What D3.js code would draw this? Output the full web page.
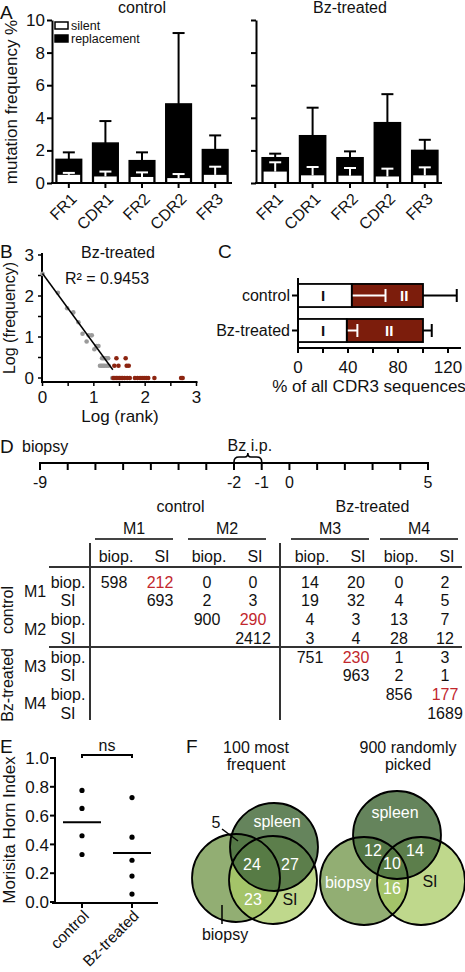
<!DOCTYPE html>
<html><head><meta charset="utf-8">
<script src="https://cdn.jsdelivr.net/npm/d3@7"></script>
<style>
body{margin:0;background:#fff}
svg{display:block}
text{font-family:"Liberation Sans",Arial,Helvetica,sans-serif;fill:#111}
</style>
</head><body>
<svg id="c" width="465" height="972"></svg>
<script>
// ---------- DATA ----------
// Panel A
const regions = ["FR1","CDR1","FR2","CDR2","FR3"];
const ctrlReplacement    = [1.45, 2.45, 1.37, 4.85, 2.05];
const ctrlReplacementErr = [1.88, 3.80, 1.88, 9.20, 2.92];
const ctrlSilent         = [0.50, 0.40, 0.37, 0.30, 0.50];
const ctrlSilentErr      = [0.62, 0.70, 0.65, 0.55, 1.00];
const bzReplacement      = [1.55, 2.90, 1.55, 3.70, 2.00];
const bzReplacementErr   = [1.80, 4.62, 1.94, 5.45, 2.65];
const bzSilent           = [0.70, 0.47, 0.45, 0.40, 0.47];
const bzSilentErr        = [1.27, 0.98, 0.92, 0.88, 0.96];
const aTicks = [0, 2, 4, 6, 8, 10];
const aLegend = ["silent", "replacement"];

// Panel B
const bGrayX = [0, 0.30, 0.48, 0.60, 0.70, 0.78, 0.86, 0.90, 0.96, 1.01, 1.05, 1.09,
                1.16, 1.19, 1.22, 1.25, 1.28, 1.12, 1.15, 1.18, 1.21, 1.25, 1.29, 1.36];
const bGrayY = [2.54, 2.08, 1.70, 1.60, 1.36, 1.08, 0.89, 1.04, 1.04, 0.70, 0.78, 0.78,
                0.48, 0.48, 0.48, 0.48, 0.48, 0.30, 0.30, 0.30, 0.30, 0.30, 0.30, 0];
const bRedX = [1.44, 1.62, 1.40, 1.48, 1.64, 1.68,
               1.38, 1.41, 1.44, 1.47, 1.50, 1.53, 1.56, 1.60, 1.65, 1.70,
               1.80, 1.85, 1.90, 1.94, 1.98, 2.02, 2.06, 2.18, 2.70, 2.73];
const bRedY = [0.48, 0.48, 0.30, 0.30, 0.30, 0.30,
               0, 0, 0, 0, 0, 0, 0, 0, 0, 0,
               0, 0, 0, 0, 0, 0, 0, 0, 0, 0];
const bFitX = [0, 1.37];
const bFitY = [2.55, 0.20];
const bTicks = [0, 1, 2, 3];
const bR2 = "R\u00B2 = 0.9453";

// Panel C
const cCategories = ["control", "Bz-treated"];
const cTypeI      = [43, 39];
const cTypeIErr   = [70, 47.5];
const cTotal      = [100, 100];
const cTotalErr   = [127, 107];
const cLabelII    = [85, 73];
const cTicks = [0, 40, 80, 120];

// Panel D timeline
const tlDays = d3.range(-9, 6);
const tlLabeled = [-9, -2, -1, 0, 5];
const tlBrace = [-2, -1];

// Panel D table
const mice = ["M1", "M2", "M3", "M4"];
const samples = ["biop.", "SI"];
const groups = ["control", "Bz-treated"];
const overlap = [
  [598, 212, 0, 0, 14, 20, 0, 2],
  [null, 693, 2, 3, 19, 32, 4, 5],
  [null, null, 900, 290, 4, 3, 13, 7],
  [null, null, null, 2412, 3, 4, 28, 12],
  [null, null, null, null, 751, 230, 1, 3],
  [null, null, null, null, null, 963, 2, 1],
  [null, null, null, null, null, null, 856, 177],
  [null, null, null, null, null, null, null, 1689]
];

// Panel E
const eGroups = ["control", "Bz-treated"];
const eControl = [0.775, 0.65, 0.46, 0.33];
const eBz = [0.725, 0.45, 0.29, 0.18, 0.055];
const eTicks = [0, 0.2, 0.4, 0.6, 0.8, 1.0];

// Panel F
const fTitles = [["100 most", "frequent"], ["900 randomly", "picked"]];
const fSets = ["spleen", "biopsy", "SI"];
const fLeftCounts = {sb: 5, all: 24, ss: 27, bs: 23};
const fRightCounts = {sb: 12, all: 10, ss: 14, bs: 16};

// ---------- DRAW ----------
const svg = d3.select("#c");
const DARKRED = "#7c1d0c";
const PTRED = "#8c2410";
const NUMRED = "#c2272d";

function panelLabel(t, x, y) {
  svg.append("text").attr("x", x).attr("y", y).attr("font-size", 19).text(t);
}

// ---- Panel A ----
panelLabel("A", 0, 19);
const aY = d3.scaleLinear().domain([0, 10]).range([183, 20]);

function drawA(axisX, xRange, rep, repErr, sil, silErr, title, showLabels) {
  const g = svg.append("g");
  const x = d3.scaleBand().domain(regions).range(xRange).paddingInner(0.3).paddingOuter(0.11);
  const bw = x.bandwidth();
  const cap = 12;
  regions.forEach((r, i) => {
    const x0 = x(r), cx = x0 + bw / 2;
    g.append("line").attr("x1", cx).attr("x2", cx).attr("y1", aY(rep[i])).attr("y2", aY(repErr[i]))
      .attr("stroke", "#000").attr("stroke-width", 2);
    g.append("line").attr("x1", cx - cap / 2).attr("x2", cx + cap / 2).attr("y1", aY(repErr[i])).attr("y2", aY(repErr[i]))
      .attr("stroke", "#000").attr("stroke-width", 2);
    g.append("rect").attr("x", x0).attr("y", aY(rep[i])).attr("width", bw).attr("height", aY(0) - aY(rep[i]))
      .attr("fill", "#000").attr("stroke", "#000").attr("stroke-width", 1.5);
    g.append("rect").attr("x", x0 + 1.5).attr("y", aY(sil[i])).attr("width", bw - 3).attr("height", aY(0) - aY(sil[i]) - 1)
      .attr("fill", "#fff");
    g.append("line").attr("x1", cx).attr("x2", cx).attr("y1", aY(sil[i])).attr("y2", aY(silErr[i]))
      .attr("stroke", "#fff").attr("stroke-width", 2);
    g.append("line").attr("x1", cx - cap / 2).attr("x2", cx + cap / 2).attr("y1", aY(silErr[i])).attr("y2", aY(silErr[i]))
      .attr("stroke", "#fff").attr("stroke-width", 2);
  });
  const ya = d3.axisLeft(aY).tickValues(aTicks).tickSize(5).tickSizeOuter(0);
  if (!showLabels) ya.tickFormat("");
  const yg = g.append("g").attr("transform", `translate(${axisX},0)`).call(ya);
  yg.select(".domain").attr("stroke-width", 2);
  yg.selectAll(".tick line").attr("stroke-width", 2);
  yg.selectAll(".tick text").attr("font-size", 17).attr("font-family", "Liberation Sans, Arial, sans-serif").attr("fill", "#111").attr("x", -7);
  g.append("line").attr("x1", axisX - 1).attr("x2", xRange[1]).attr("y1", aY(0)).attr("y2", aY(0))
    .attr("stroke", "#000").attr("stroke-width", 2);
  regions.forEach(r => {
    const cx = x(r) + bw / 2;
    g.append("line").attr("x1", cx).attr("x2", cx).attr("y1", aY(0)).attr("y2", aY(0) + 5).attr("stroke", "#000").attr("stroke-width", 2);
    g.append("text").attr("text-anchor", "end").attr("font-size", 16).attr("dy", "0.35em")
      .attr("transform", `translate(${cx + 5},${aY(0) + 13}) rotate(-45)`).text(r);
  });
  g.append("text").attr("x", (xRange[0] + xRange[1]) / 2).attr("y", 13).attr("text-anchor", "middle")
    .attr("font-size", 16).text(title);
}
drawA(52, [52, 232], ctrlReplacement, ctrlReplacementErr, ctrlSilent, ctrlSilentErr, "control", true);
drawA(256, [258, 442], bzReplacement, bzReplacementErr, bzSilent, bzSilentErr, "Bz-treated", false);
// legend
[["#fff", 22], ["#000", 35]].forEach((d, i) => {
  svg.append("rect").attr("x", 55).attr("y", d[1]).attr("width", 13).attr("height", 7)
    .attr("fill", d[0]).attr("stroke", "#000").attr("stroke-width", 1.5);
  svg.append("text").attr("x", 71).attr("y", d[1] + 7.5).attr("font-size", 12.5).text(aLegend[i]);
});
svg.append("text").attr("transform", "translate(17,102) rotate(-90)").attr("text-anchor", "middle")
  .attr("font-size", 17).text("mutation frequency %");

// ---- Panel B ----
panelLabel("B", 0, 258);
const bX = d3.scaleLinear().domain([0, 3]).range([42.5, 196.5]);
const bYs = d3.scaleLinear().domain([0, 3]).range([378, 255]);
{
  const g = svg.append("g");
  g.append("line").attr("x1", 42).attr("x2", 42).attr("y1", 253).attr("y2", 383).attr("stroke", "#000").attr("stroke-width", 2);
  g.append("line").attr("x1", 41).attr("x2", 197.5).attr("y1", 382).attr("y2", 382).attr("stroke", "#000").attr("stroke-width", 2);
  d3.range(0, 3.01, 0.5).forEach(v => {
    g.append("line").attr("x1", 38).attr("x2", 42).attr("y1", bYs(v)).attr("y2", bYs(v)).attr("stroke", "#000").attr("stroke-width", 1.5);
    g.append("line").attr("x1", bX(v)).attr("x2", bX(v)).attr("y1", 382).attr("y2", 386).attr("stroke", "#000").attr("stroke-width", 1.5);
  });
  bTicks.forEach(v => {
    g.append("text").attr("x", 34).attr("y", bYs(v)).attr("dy", "0.35em").attr("text-anchor", "end").attr("font-size", 17).text(v);
    g.append("text").attr("x", bX(v)).attr("y", 403).attr("text-anchor", "middle").attr("font-size", 17).text(v);
  });
  bGrayX.forEach((v, i) => g.append("circle").attr("cx", bX(v)).attr("cy", bYs(bGrayY[i])).attr("r", 2.3).attr("fill", "#9a9a9a"));
  bRedX.forEach((v, i) => g.append("circle").attr("cx", bX(v)).attr("cy", bYs(bRedY[i])).attr("r", 2.3).attr("fill", PTRED));
  g.append("line").attr("x1", bX(bFitX[0])).attr("y1", bYs(bFitY[0])).attr("x2", bX(bFitX[1])).attr("y2", bYs(bFitY[1]))
    .attr("stroke", "#000").attr("stroke-width", 1.5);
  g.append("text").attr("x", 118).attr("y", 258).attr("text-anchor", "middle").attr("font-size", 16).text("Bz-treated");
  g.append("text").attr("x", 107).attr("y", 284).attr("text-anchor", "middle").attr("font-size", 16).text(bR2);
  g.append("text").attr("transform", "translate(14.5,318) rotate(-90)").attr("text-anchor", "middle").attr("font-size", 16).text("Log (frequency)");
  g.append("text").attr("x", 120).attr("y", 422).attr("text-anchor", "middle").attr("font-size", 17).text("Log (rank)");
}

// ---- Panel C ----
panelLabel("C", 218, 258);
{
  const g = svg.append("g");
  const x = d3.scaleLinear().domain([0, 120]).range([298, 448]);
  const y = d3.scaleBand().domain(cCategories).range([278, 348]).paddingInner(0.34).paddingOuter(0.17);
  const bh = y.bandwidth();
  cCategories.forEach((c, i) => {
    const y0 = y(c), cy = y0 + bh / 2;
    g.append("line").attr("x1", x(cTotal[i])).attr("x2", x(cTotalErr[i])).attr("y1", cy).attr("y2", cy).attr("stroke", "#000").attr("stroke-width", 2);
    g.append("line").attr("x1", x(cTotalErr[i])).attr("x2", x(cTotalErr[i])).attr("y1", cy - 6.5).attr("y2", cy + 6.5).attr("stroke", "#000").attr("stroke-width", 2);
    g.append("rect").attr("x", x(cTypeI[i])).attr("y", y0).attr("width", x(cTotal[i]) - x(cTypeI[i])).attr("height", bh)
      .attr("fill", DARKRED).attr("stroke", "#000").attr("stroke-width", 1.8);
    g.append("rect").attr("x", x(0)).attr("y", y0).attr("width", x(cTypeI[i]) - x(0)).attr("height", bh)
      .attr("fill", "#fff").attr("stroke", "#000").attr("stroke-width", 1.8);
    g.append("line").attr("x1", x(cTypeI[i]) + 1).attr("x2", x(cTypeIErr[i])).attr("y1", cy).attr("y2", cy).attr("stroke", "#fff").attr("stroke-width", 2);
    g.append("line").attr("x1", x(cTypeIErr[i])).attr("x2", x(cTypeIErr[i])).attr("y1", cy - 6.5).attr("y2", cy + 6.5).attr("stroke", "#fff").attr("stroke-width", 2);
    g.append("text").attr("x", x(20)).attr("y", cy).attr("dy", "0.36em").attr("text-anchor", "middle")
      .attr("font-size", 15).attr("font-weight", "bold").text("I");
    g.append("text").attr("x", x(cLabelII[i])).attr("y", cy).attr("dy", "0.36em").attr("text-anchor", "middle")
      .attr("font-size", 15).attr("font-weight", "bold").style("fill", "#fff").text("II");
    g.append("line").attr("x1", 292).attr("x2", 298).attr("y1", cy).attr("y2", cy).attr("stroke", "#000").attr("stroke-width", 2);
    g.append("text").attr("x", 290).attr("y", cy).attr("dy", "0.36em").attr("text-anchor", "end").attr("font-size", 16).text(c);
  });
  g.append("line").attr("x1", 298).attr("x2", 298).attr("y1", 278).attr("y2", 349).attr("stroke", "#000").attr("stroke-width", 2);
  g.append("line").attr("x1", 297).attr("x2", 461).attr("y1", 348).attr("y2", 348).attr("stroke", "#000").attr("stroke-width", 2);
  d3.range(0, 121, 20).forEach(v => {
    g.append("line").attr("x1", x(v)).attr("x2", x(v)).attr("y1", 348).attr("y2", 353).attr("stroke", "#000").attr("stroke-width", 2);
  });
  cTicks.forEach(v => g.append("text").attr("x", x(v)).attr("y", 373).attr("text-anchor", "middle").attr("font-size", 17).text(v));
  g.append("text").attr("x", 369).attr("y", 392).attr("text-anchor", "middle").attr("font-size", 17).text("% of all CDR3 sequences");
}

// ---- Panel D timeline ----
panelLabel("D", 0, 453);
{
  const g = svg.append("g");
  const t = d3.scaleLinear().domain([-9, 5]).range([40, 428]);
  g.append("line").attr("x1", t(-9) - 1).attr("x2", t(5) + 1).attr("y1", 463).attr("y2", 463).attr("stroke", "#000").attr("stroke-width", 2);
  tlDays.forEach(d => g.append("line").attr("x1", t(d)).attr("x2", t(d)).attr("y1", 463).attr("y2", 470).attr("stroke", "#000").attr("stroke-width", 2));
  tlLabeled.forEach(d => g.append("text").attr("x", t(d)).attr("y", 488).attr("text-anchor", "middle").attr("font-size", 16).text(d));
  g.append("text").attr("x", 22).attr("y", 452).attr("font-size", 16).text("biopsy");
  const a = t(tlBrace[0]), b = t(tlBrace[1]), m = (a + b) / 2;
  g.append("path").attr("d", `M${a},462 Q${a},457 ${a + 5},457 L${m - 3},457 Q${m},457 ${m},453 Q${m},457 ${m + 3},457 L${b - 5},457 Q${b},457 ${b},462`)
    .attr("fill", "none").attr("stroke", "#000").attr("stroke-width", 1.6);
  g.append("text").attr("x", m + 2).attr("y", 451).attr("text-anchor", "middle").attr("font-size", 16).text("Bz i.p.");
}

// ---- Panel D table ----
{
  const g = svg.append("g");
  const mouseX = d3.scaleOrdinal().domain(mice).range([137, 230, 333, 422]);
  const sampOff = d3.scaleOrdinal().domain(samples).range([-23, 23]);
  const rowKeys = [];
  mice.forEach(mm => samples.forEach(s => rowKeys.push(mm + "|" + s)));
  const rowY = d3.scalePoint().domain(rowKeys).range([582, 713]);
  const colX = k => { const [mm, s] = k.split("|"); return mouseX(mm) + sampOff(s); };
  g.append("text").attr("x", (mouseX("M1") + mouseX("M2")) / 2 - 3).attr("y", 512).attr("text-anchor", "middle").attr("font-size", 16).text(groups[0]);
  g.append("text").attr("x", (mouseX("M3") + mouseX("M4")) / 2 - 5).attr("y", 512).attr("text-anchor", "middle").attr("font-size", 16).text(groups[1]);
  mice.forEach(mm => {
    const cx = mouseX(mm) - 3;
    g.append("text").attr("x", cx).attr("y", 534).attr("text-anchor", "middle").attr("font-size", 16).text(mm);
    g.append("line").attr("x1", cx - 39).attr("x2", cx + 39).attr("y1", 539).attr("y2", 539).attr("stroke", "#444").attr("stroke-width", 2);
  });
  rowKeys.forEach(k => {
    g.append("text").attr("x", colX(k) + 2).attr("y", 562).attr("text-anchor", "middle").attr("font-size", 16).text(k.split("|")[1]);
  });
  g.append("line").attr("x1", 49).attr("x2", 462).attr("y1", 567).attr("y2", 567).attr("stroke", "#333").attr("stroke-width", 2);
  g.append("line").attr("x1", 49).attr("x2", 462).attr("y1", 647).attr("y2", 647).attr("stroke", "#333").attr("stroke-width", 2);
  g.append("line").attr("x1", 90).attr("x2", 90).attr("y1", 543).attr("y2", 720).attr("stroke", "#333").attr("stroke-width", 2);
  g.append("line").attr("x1", 280).attr("x2", 280).attr("y1", 543).attr("y2", 720).attr("stroke", "#333").attr("stroke-width", 2);
  rowKeys.forEach(k => {
    g.append("text").attr("x", 68).attr("y", rowY(k)).attr("dy", "0.36em").attr("text-anchor", "middle").attr("font-size", 16).text(k.split("|")[1]);
  });
  mice.forEach(mm => {
    const yy = (rowY(mm + "|biop.") + rowY(mm + "|SI")) / 2;
    g.append("text").attr("x", 35).attr("y", yy).attr("dy", "0.36em").attr("text-anchor", "middle").attr("font-size", 16).text(mm);
  });
  g.append("text").attr("transform", `translate(13,${(rowY("M1|biop.") + rowY("M2|SI")) / 2}) rotate(-90)`).attr("text-anchor", "middle").attr("font-size", 16).text(groups[0]);
  g.append("text").attr("transform", `translate(13,${(rowY("M3|biop.") + rowY("M4|SI")) / 2}) rotate(-90)`).attr("text-anchor", "middle").attr("font-size", 16).text(groups[1]);
  overlap.forEach((row, ri) => row.forEach((v, ci) => {
    if (v === null) return;
    const red = (ri % 2 === 0) && (ci === ri + 1);
    g.append("text").attr("x", colX(rowKeys[ci])).attr("y", rowY(rowKeys[ri])).attr("dy", "0.36em")
      .attr("text-anchor", "middle").attr("font-size", 16).style("fill", red ? NUMRED : "#111").text(v);
  }));
}

// ---- Panel E ----
panelLabel("E", 0, 753);
{
  const g = svg.append("g");
  const y = d3.scaleLinear().domain([0, 1]).range([902, 758]);
  const x = d3.scalePoint().domain(eGroups).range([82, 132]);
  g.append("line").attr("x1", 55).attr("x2", 55).attr("y1", 757).attr("y2", 904).attr("stroke", "#000").attr("stroke-width", 2);
  g.append("line").attr("x1", 52).attr("x2", 158).attr("y1", 903).attr("y2", 903).attr("stroke", "#000").attr("stroke-width", 2);
  eTicks.forEach(v => {
    g.append("line").attr("x1", 50).attr("x2", 55).attr("y1", y(v)).attr("y2", y(v)).attr("stroke", "#000").attr("stroke-width", 2);
    g.append("text").attr("x", 49).attr("y", y(v)).attr("dy", "0.36em").attr("text-anchor", "end").attr("font-size", 17).text(v.toFixed(1));
  });
  eGroups.forEach(gr => {
    g.append("line").attr("x1", x(gr)).attr("x2", x(gr)).attr("y1", 903).attr("y2", 908).attr("stroke", "#000").attr("stroke-width", 2);
    g.append("text").attr("text-anchor", "end").attr("font-size", 15.5).attr("dy", "0.35em")
      .attr("transform", `translate(${x(gr) + 4},${913}) rotate(-45)`).text(gr);
  });
  [eControl, eBz].forEach((arr, i) => {
    const cx = x(eGroups[i]);
    arr.forEach(v => g.append("circle").attr("cx", cx).attr("cy", y(v)).attr("r", 2.6).attr("fill", "#000"));
    const m = d3.mean(arr);
    g.append("line").attr("x1", cx - 19).attr("x2", cx + 19).attr("y1", y(m)).attr("y2", y(m)).attr("stroke", "#000").attr("stroke-width", 2);
  });
  g.append("path").attr("d", `M${x(eGroups[0])},758 L${x(eGroups[0])},755 L${x(eGroups[1])},755 L${x(eGroups[1])},758`)
    .attr("fill", "none").attr("stroke", "#000").attr("stroke-width", 2);
  g.append("text").attr("x", (x(eGroups[0]) + x(eGroups[1])) / 2).attr("y", 751).attr("text-anchor", "middle").attr("font-size", 16).text("ns");
  g.append("text").attr("transform", "translate(15,830) rotate(-90)").attr("text-anchor", "middle").attr("font-size", 17).text("Morisita Horn Index");
}

// ---- Panel F ----
panelLabel("F", 186, 753);
{
  const g = svg.append("g");
  const fill = {spleen: ["#4a6e40", 0.85], biopsy: ["#7fa05a", 0.85], SI: ["#a9cb66", 0.75]};
  const venns = [
    {cx: 256, title: fTitles[0], c: {biopsy: [236, 878], SI: [273, 880], spleen: [274, 847]}},
    {cx: 408, title: fTitles[1], c: {biopsy: [364, 881], SI: [421, 881], spleen: [397, 835]}}
  ];
  const r = 44;
  venns.forEach(v => {
    g.append("text").attr("x", v.cx).attr("y", 753).attr("text-anchor", "middle").attr("font-size", 16).text(v.title[0]);
    g.append("text").attr("x", v.cx).attr("y", 770).attr("text-anchor", "middle").attr("font-size", 16).text(v.title[1]);
    ["biopsy", "SI", "spleen"].forEach(s => {
      g.append("circle").attr("cx", v.c[s][0]).attr("cy", v.c[s][1]).attr("r", r)
        .attr("fill", fill[s][0]).attr("fill-opacity", fill[s][1]);
    });
    ["biopsy", "SI", "spleen"].forEach(s => {
      g.append("circle").attr("cx", v.c[s][0]).attr("cy", v.c[s][1]).attr("r", r)
        .attr("fill", "none").attr("stroke", "#000").attr("stroke-width", 1.8);
    });
  });
  const wt = (t, x, y) => g.append("text").attr("x", x).attr("y", y).attr("dy", "0.36em").attr("text-anchor", "middle")
    .attr("font-size", 16).style("fill", "#fff").text(t);
  const bt = (t, x, y) => g.append("text").attr("x", x).attr("y", y).attr("dy", "0.36em").attr("text-anchor", "middle")
    .attr("font-size", 16).style("fill", "#111").text(t);
  wt(fSets[0], 277, 821);
  wt(fLeftCounts.all, 252, 864);
  wt(fLeftCounts.ss, 290, 864);
  wt(fLeftCounts.bs, 253, 899);
  bt(fSets[2], 290, 899);
  bt(fLeftCounts.sb, 216, 822);
  g.append("line").attr("x1", 222).attr("y1", 829).attr("x2", 238).attr("y2", 841).attr("stroke", "#000").attr("stroke-width", 1.5);
  bt(fSets[1], 225, 934);
  g.append("line").attr("x1", 222).attr("y1", 905).attr("x2", 222).attr("y2", 924).attr("stroke", "#000").attr("stroke-width", 1.5);
  wt(fSets[0], 395, 812);
  wt(fRightCounts.sb, 373, 850);
  wt(fRightCounts.ss, 415, 850);
  wt(fRightCounts.all, 392, 863);
  wt(fSets[1], 348, 882);
  wt(fRightCounts.bs, 392, 888);
  bt(fSets[2], 430, 881);
}
</script>
</body></html>
